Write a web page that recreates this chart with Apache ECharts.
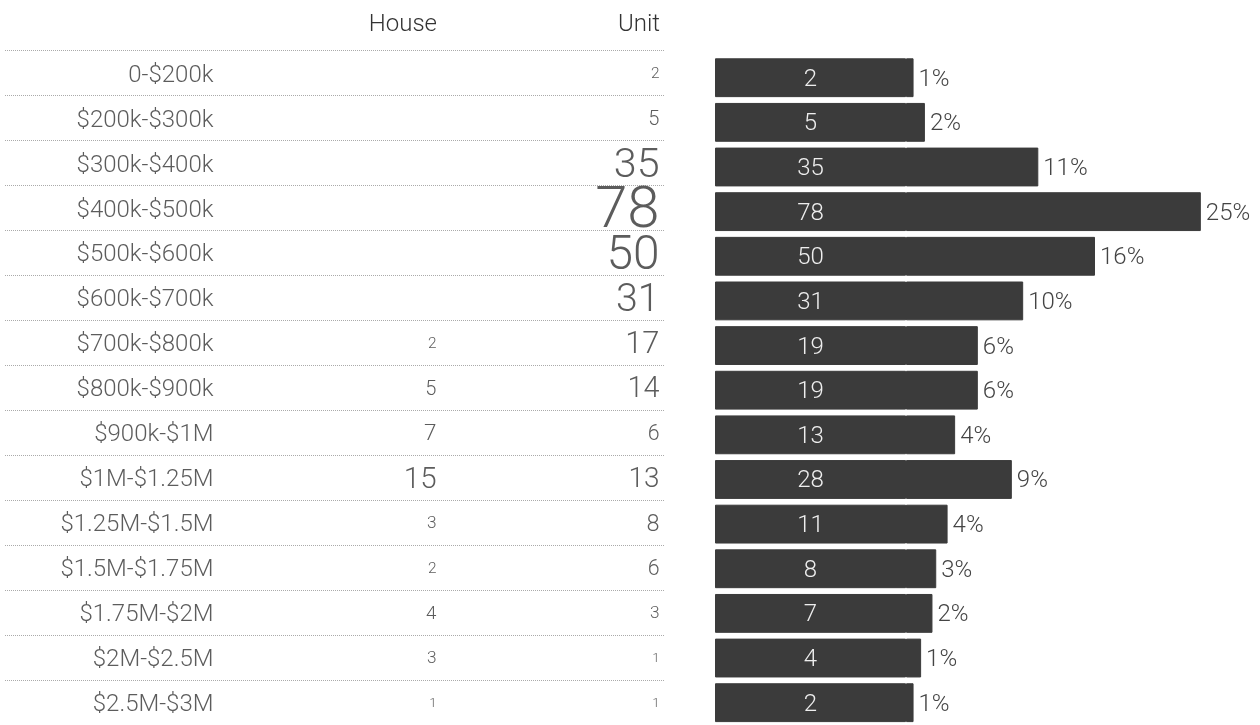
<!DOCTYPE html>
<html><head><meta charset="utf-8">
<script src="https://cdn.jsdelivr.net/npm/echarts@6/dist/echarts.min.js"></script>
<style>html,body{margin:0;padding:0;background:#fff}#c{width:1260px;height:725px}</style>
</head><body><div id="c"></div>
<script>
const categories = ['0-$200k','$200k-$300k','$300k-$400k','$400k-$500k','$500k-$600k','$600k-$700k','$700k-$800k','$800k-$900k','$900k-$1M','$1M-$1.25M','$1.25M-$1.5M','$1.5M-$1.75M','$1.75M-$2M','$2M-$2.5M','$2.5M-$3M'];
const houseValues = [null,null,null,null,null,null,2,5,7,15,3,2,4,3,1];
const unitValues = [2,5,35,78,50,31,17,14,6,13,8,6,3,1,1];
const columnLabels = ['', 'House', 'Unit'];

const totals = categories.map((c,i) => (houseValues[i] || 0) + unitValues[i]);
const grandTotal = totals.reduce((a,b) => a + b, 0);
const maxCell = Math.max(...houseValues.filter(v => v != null), ...unitValues);

const FONT = 'Roboto, "Liberation Sans", sans-serif';
const TEXT = '#333';
const BAR = '#3b3b3b';
const BAR_MAX = 140, BAR_GRID_W = 529.2;
const BAR_BASE = 191 / (BAR_GRID_W / BAR_MAX); // visual offset of the bar start (style)

function cellFont(v){ return 13 + (Math.sqrt(v) - 1) / (Math.sqrt(maxCell) - 1) * 45; }
function cellData(arr, col){
  return arr.map((v,i) => {
    if (v == null) return null;
    const fs = cellFont(v);
    return {value:[col, i, v], label:{fontSize: fs, offset:[0, fs * 0.085]}};
  });
}
const cellLabel = {show:true, position:'left', distance:0, color:TEXT, fontFamily:FONT, fontWeight:300};

const chart = echarts.init(document.getElementById('c'), null, {renderer:'canvas'});
const rowTop = 50.7, rowH = 677.8;
chart.setOption({
  animation: false,
  textStyle: {fontFamily: FONT, fontWeight: 300},
  grid: [
    {left: 5, top: rowTop, width: 660, height: rowH},
    {left: 214, top: rowTop, width: 446, height: rowH},
    {left: 715, top: 55.4, width: BAR_GRID_W, height: 671.4}
  ],
  xAxis: [
    {gridIndex: 0, type: 'value', show: false},
    {gridIndex: 1, type: 'category', data: columnLabels, boundaryGap: false, position: 'top',
     axisLine:{show:false}, axisTick:{show:false}, splitLine:{show:false},
     axisLabel:{interval:0, align:'right', margin:14, fontSize:24, color:TEXT, fontFamily:FONT, fontWeight:300}},
    {gridIndex: 2, type: 'value', min: 0, max: BAR_MAX, show: false}
  ],
  yAxis: [
    {gridIndex: 0, type: 'category', data: categories, inverse: true,
     axisLine:{show:false}, axisTick:{show:false}, axisLabel:{show:false},
     splitLine:{show:true, interval:0, lineStyle:{type:'dotted', color:'#aaa', width:1}}},
    {gridIndex: 1, type: 'category', data: categories, inverse: true,
     axisLine:{show:false}, axisTick:{show:false}, splitLine:{show:false}, axisLabel:{show:false}},
    {gridIndex: 2, type: 'category', data: categories, inverse: true, show: false}
  ],
  series: [
    {type:'scatter', xAxisIndex:1, yAxisIndex:1, data: categories.map((c,i) => [0, i]),
     symbolSize: 1, itemStyle:{color:'rgba(0,0,0,0)'}, silent:true,
     label:Object.assign({}, cellLabel, {fontSize:24, offset:[0,2.5], formatter: p => categories[p.dataIndex]})},
    {type:'scatter', xAxisIndex:1, yAxisIndex:1, data: cellData(houseValues, 1),
     symbolSize: 1, itemStyle:{color:'rgba(0,0,0,0)'}, silent:true,
     label:Object.assign({}, cellLabel, {formatter: p => p.value[2]})},
    {type:'scatter', xAxisIndex:1, yAxisIndex:1, data: cellData(unitValues, 2),
     symbolSize: 1, itemStyle:{color:'rgba(0,0,0,0)'}, silent:true,
     label:Object.assign({}, cellLabel, {formatter: p => p.value[2]})},
    {type:'bar', xAxisIndex:2, yAxisIndex:2, stack:'t', barCategoryGap:'13%',
     data: categories.map(() => BAR_BASE), itemStyle:{color:BAR, borderColor:BAR, borderWidth:1}, silent:true,
     label:{show:true, position:'inside', offset:[0,2], color:'#eee', fontSize:24, fontFamily:FONT, fontWeight:300,
       formatter: p => totals[p.dataIndex]}},
    {type:'bar', xAxisIndex:2, yAxisIndex:2, stack:'t', barCategoryGap:'13%',
     data: totals, itemStyle:{color:BAR, borderColor:BAR, borderWidth:1}, silent:true,
     label:{show:true, position:'right', distance:5, offset:[0,2], color:'#444', fontSize:24, fontFamily:FONT, fontWeight:300,
       formatter: p => Math.round(p.value / grandTotal * 100) + '%'}}
  ]
});
</script></body></html>
